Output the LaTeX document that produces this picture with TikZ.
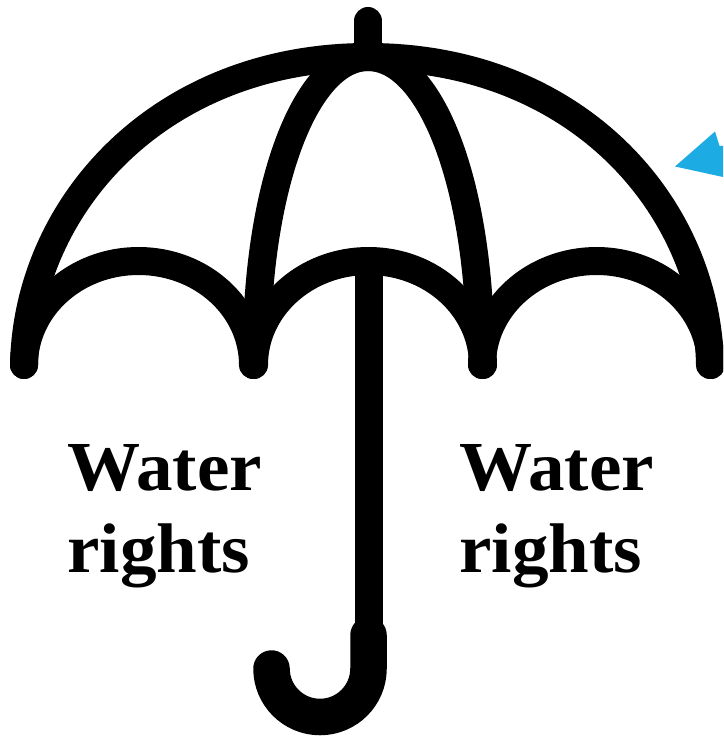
\documentclass[tikz,border=0pt]{standalone}
\usepackage{fontspec}
\setmainfont{Liberation Serif}[BoldFeatures={FakeStretch=1.04}]
\usepackage{xcolor}
\definecolor{wedge}{RGB}{28,171,226}

\begin{document}
\begin{tikzpicture}[
    x=0.02cm,y=-0.02cm,
    canopy/.style={draw=black,line width=0.56cm,line cap=round,line join=round},
    grip/.style={draw=black,line width=0.73cm,line cap=round},
    word/.style={anchor=base west,inner sep=0pt,font=\fontsize{40}{40}\selectfont\bfseries}]
    \useasboundingbox (0,0) rectangle (723,736);
    \clip (0,0) rectangle (723,736);
    % top, shaft and hook
    \draw[canopy] (368,21) -- (368,57);
    \draw[canopy] (369,262) -- (369,640);
    \draw[grip] (368.5,635) -- (368.5,668.5) arc[start angle=0,end angle=180,x radius=48.5,y radius=48.5];
    % dome and ribs
    \draw[canopy] (24,365) .. controls (27,205) and (160,57) .. (368,57)
      .. controls (576,57) and (707,205) .. (710,365);
    \draw[canopy] (368,57) .. controls (310,57) and (262,170) .. (257,330);
    \draw[canopy] (368,57) .. controls (427,57) and (475,170) .. (480,330);
    % scallops along the rim
    \foreach \sx in {24,254,482}{
      \draw[canopy] (\sx,365) arc[start angle=180,end angle=360,x radius=114.5,y radius=104];
    }
    \fill[wedge] (675,166.5) -- (715,131.5) -- (719.5,146) -- (723,146) -- (723,177) -- cycle;
    \node[word] (waterl) at (67,490){Water};
    \node[word] (rightsl) at (67,572){rights};
    \node[word] (waterr) at (459,490){Water};
    \node[word] (rightsr) at (459,572){rights};
  \end{tikzpicture}
\end{document}
